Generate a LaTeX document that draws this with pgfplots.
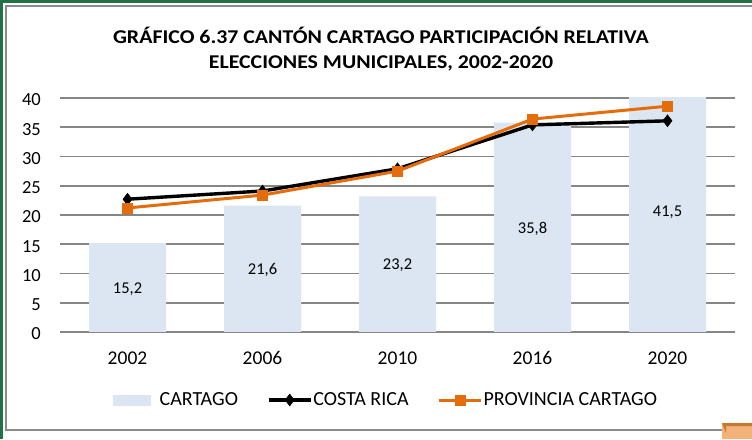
\documentclass[border=0pt]{standalone}
\usepackage{fontspec}
\setmainfont{Carlito}
\newfontfamily\titlefont{Carlito}[FakeStretch=1.12]
\usepackage{pgfplots}
\pgfplotsset{compat=1.18}
\usepackage{pgfplotstable}

\definecolor{barfill}{HTML}{DCE6F2}
\definecolor{orangeline}{HTML}{E46C0A}
\definecolor{gridgray}{HTML}{868686}
\definecolor{framegreen}{HTML}{217346}
\definecolor{framegray}{HTML}{8C8C8C}
\definecolor{tabfill}{HTML}{F2B27A}
\definecolor{tabedge}{HTML}{C87830}

\pgfplotsset{
  lineleg/.style={legend image code/.code={%
    \draw[##1, mark=none] (0pt,0pt) -- (42pt,0pt);
    \draw[##1, mark repeat=2, mark phase=2] plot coordinates {(0pt,0pt) (21pt,0pt) (42pt,0pt)};}},
  barleg/.style={legend image code/.code={%
    \fill[barfill] (0pt,-5.5pt) rectangle (38pt,5.5pt);
    \path (46pt,0pt);}},
}

% Participation (%) per election year
\pgfplotstableread{
x  year cartago lbl    costarica provincia
0  2002 15.2    {15,2} 22.7      21.2
1  2006 21.6    {21,6} 24.1      23.4
2  2010 23.2    {23,2} 27.9      27.5
3  2016 35.8    {35,8} 35.4      36.4
4  2020 41.5    {41,5} 36.1      38.6
}\datatable

\begin{document}
\begin{tikzpicture}[x=1pt,y=1pt]
\useasboundingbox (0,0) rectangle (752,439);
\fill[white] (0,0) rectangle (752,439);
% outer frame
\draw[framegreen, line width=3pt] (1.5,0) -- (1.5,437.5) -- (752,437.5);
\draw[framegray, line width=2pt] (752,9) -- (6,9) -- (6,433) -- (752,433);
\fill[tabfill] (722,0) rectangle (752,16);
\fill[tabedge] (722,16) -- (752,16) -- (752,13) -- (726,13) -- (726,6) -- (722,16) -- cycle;

% title
\node[font=\fontsize{19.5}{21}\selectfont\titlefont\bfseries, anchor=base] at (381,395) {GRÁFICO 6.37 CANTÓN CARTAGO PARTICIPACIÓN RELATIVA};
\node[font=\fontsize{19.5}{21}\selectfont\titlefont\bfseries, anchor=base] at (381,370.5) {ELECCIONES MUNICIPALES, 2002-2020};

\begin{axis}[
  at={(60pt,107pt)}, anchor=south west,
  scale only axis, width=675pt, height=234pt,
  xmin=-0.5, xmax=4.5, ymin=0, ymax=40,
  xtick={0,1,2,3,4}, xticklabels={2002,2006,2010,2016,2020},
  ytick={0,5,...,40},
  ymajorgrids, major grid style={gridgray, line width=1.8pt},
  axis line style={draw=none}, tick style={draw=none},
  /pgf/number format/assume math mode=true,
  yticklabel style={font=\fontsize{18.5}{20}\selectfont, anchor=east, inner sep=0pt, xshift=-19pt, yshift=-2pt},
  xticklabel style={font=\fontsize{19.5}{21}\selectfont, anchor=base, inner sep=0pt, yshift=-32pt},
  legend columns=3,
  legend style={at={(0.482,-0.2906)}, anchor=center, draw=none, fill=none,
    font=\fontsize{20}{22}\selectfont,
    nodes={inner xsep=1pt},
    /tikz/every even column/.append style={column sep=28pt}},
]
\addplot[ybar, bar width=77pt, fill=barfill, draw=none, barleg]
  table[x=x, y=cartago] {\datatable};
\addlegendentry{CARTAGO}
\addplot[black, line width=3.4pt, mark=diamond*, mark size=6pt,
  mark options={solid, fill=black, line width=0.5pt}, lineleg]
  table[x=x, y=costarica] {\datatable};
\addlegendentry{COSTA RICA}
\addplot[orangeline, line width=3pt, mark=square*, mark size=5pt,
  mark options={solid, fill=orangeline, line width=0.5pt}, lineleg]
  table[x=x, y=provincia] {\datatable};
\addlegendentry{PROVINCIA CARTAGO}
% value labels centred in the bars
\addplot[draw=none, mark=none, forget plot,
  nodes near coords, point meta=explicit symbolic,
  every node near coord/.append style={anchor=center, font=\fontsize{16.5}{18}\selectfont, black, yshift=-1.5pt}]
  table[x=x, y expr=\thisrow{cartago}/2, meta=lbl] {\datatable};
\end{axis}
\end{tikzpicture}
\end{document}
